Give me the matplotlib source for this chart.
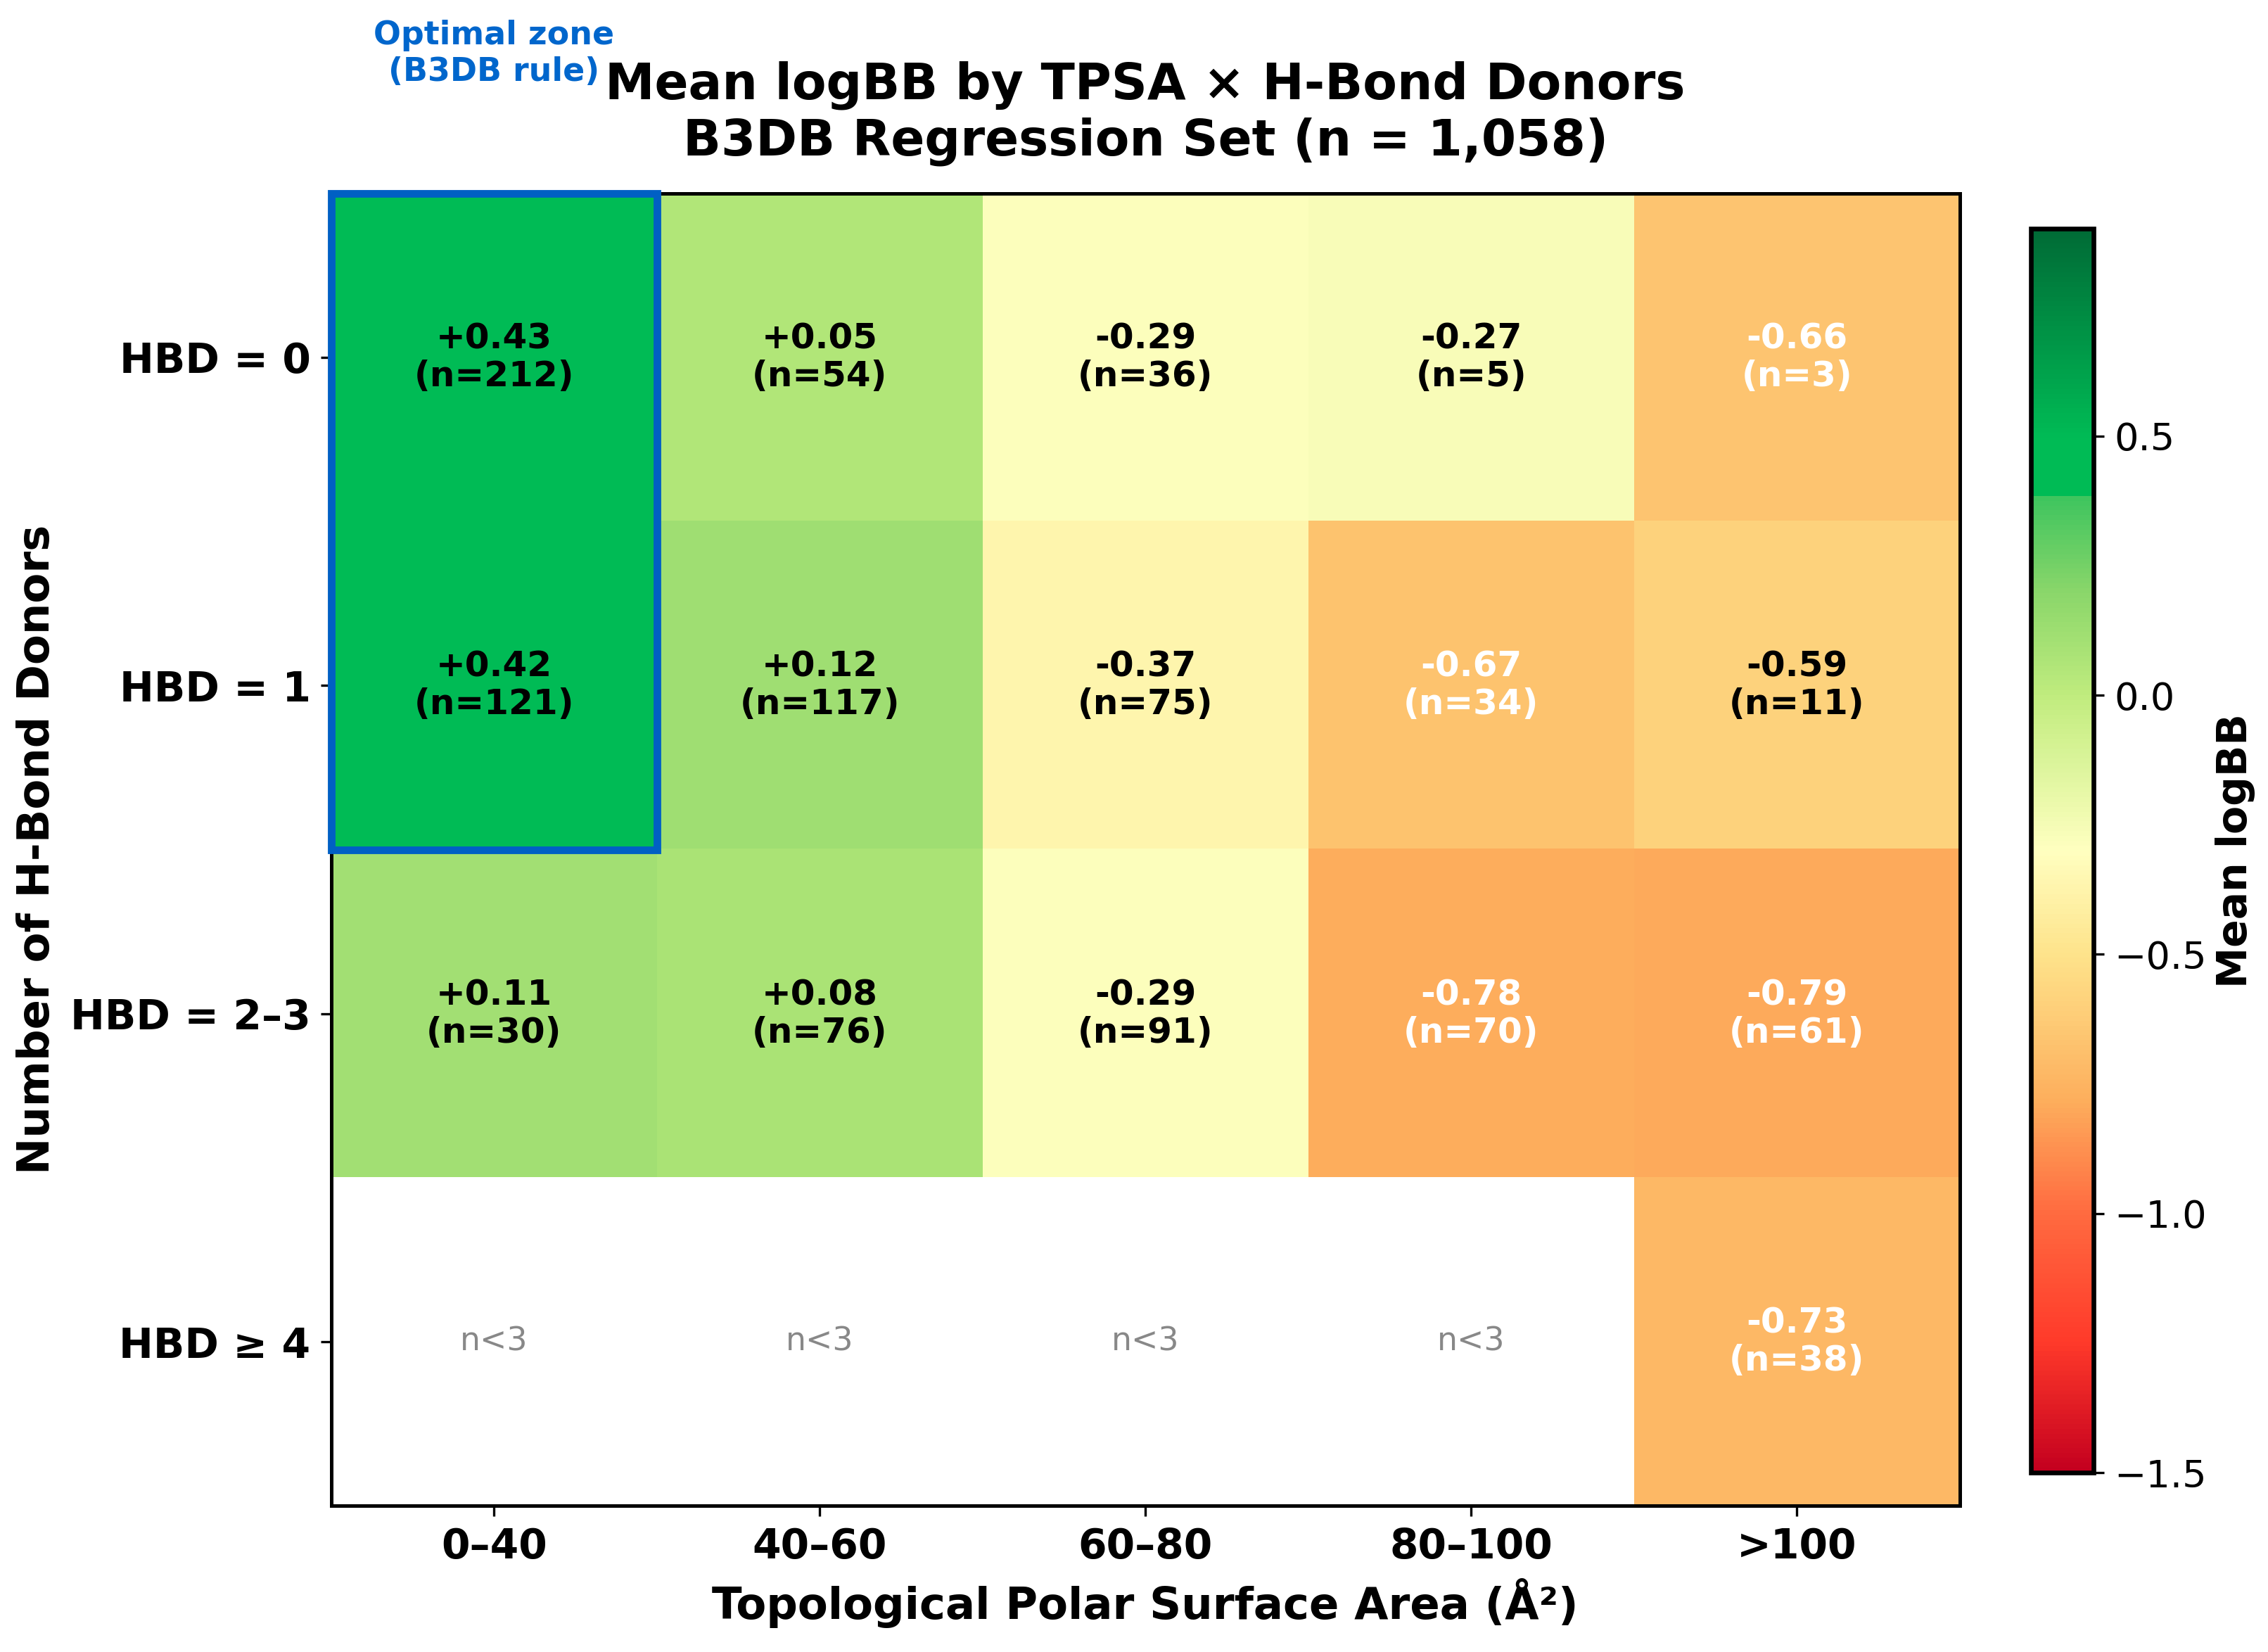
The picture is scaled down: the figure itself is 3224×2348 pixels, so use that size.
import numpy as np
import matplotlib
matplotlib.use("Agg")
import matplotlib.pyplot as plt
from matplotlib.colors import LinearSegmentedColormap
from matplotlib.patches import Rectangle

# data
tpsa_bins = ["0\u201340", "40\u201360", "60\u201380", "80\u2013100", ">100"]
hbd_bins = ["HBD = 0", "HBD = 1", "HBD = 2\u20133", "HBD \u2265 4"]

mean_hbd0 = [0.43, 0.05, -0.29, -0.27, -0.66]
mean_hbd1 = [0.42, 0.12, -0.37, -0.67, -0.59]
mean_hbd23 = [0.11, 0.08, -0.29, -0.78, -0.79]
mean_hbd4 = [np.nan, np.nan, np.nan, np.nan, -0.73]

n_hbd0 = [212, 54, 36, 5, 3]
n_hbd1 = [121, 117, 75, 34, 11]
n_hbd23 = [30, 76, 91, 70, 61]
n_hbd4 = [0, 0, 0, 0, 38]

means = np.array([mean_hbd0, mean_hbd1, mean_hbd23, mean_hbd4])
counts = np.array([n_hbd0, n_hbd1, n_hbd23, n_hbd4])

vmin, vmax = -1.5, 0.9

# custom red-yellow-green map (value, colour)
nodes = [(-1.5, "#c4001f"), (-1.25, "#ff3a2a"), (-1.0, "#ff6b40"),
         (-0.78, "#fdaf5d"), (-0.5, "#fee38b"), (-0.3, "#ffffc0"),
         (0.0, "#c0ec7e"), (0.2, "#8ad66a"), (0.389, "#3cc45e"),
         (0.39, "#00bb55"), (0.5, "#00bb55"), (0.9, "#006b36")]
cmap = LinearSegmentedColormap.from_list(
    "logbb", [((v - vmin) / (vmax - vmin), c) for v, c in nodes])
cmap.set_bad("white")

fig = plt.figure(figsize=(10.747, 7.827), dpi=300)
ax = fig.add_axes([0.146, 0.0884, 0.718, 0.7946])
cax = fig.add_axes([0.8955, 0.1086, 0.0275, 0.753])

masked = np.ma.masked_invalid(means)
im = ax.imshow(masked, cmap=cmap, vmin=vmin, vmax=vmax, aspect="auto")

for i in range(means.shape[0]):
    for j in range(means.shape[1]):
        v = means[i, j]
        if np.isnan(v):
            ax.text(j, i, "n<3", ha="center", va="center", fontsize=11,
                    color="#888888")
        else:
            col = "white" if v < -0.6 else "black"
            ax.text(j, i, f"{v:+.2f}\n(n={counts[i, j]})", ha="center",
                    va="center", fontsize=12, fontweight="bold", color=col,
                    linespacing=1.15)

# optimal zone box
ax.add_patch(Rectangle((-0.5, -0.5), 1, 2, fill=False, edgecolor="#0060c4",
                       linewidth=2.6, zorder=5, clip_on=False))
ax.text(0, -0.82, "Optimal zone\n(B3DB rule)", ha="center", va="bottom",
        fontsize=11, fontweight="bold", color="#0066cc", clip_on=False)

ax.set_xticks(range(len(tpsa_bins)))
ax.set_xticklabels(tpsa_bins, fontsize=14, fontweight="bold")
ax.set_yticks(range(len(hbd_bins)))
ax.set_yticklabels(hbd_bins, fontsize=14, fontweight="bold")
ax.set_xlabel("Topological Polar Surface Area (\u00c5\u00b2)", fontsize=15,
              fontweight="bold")
ax.set_ylabel("Number of H-Bond Donors", fontsize=15, fontweight="bold")
ax.set_title("Mean logBB by TPSA \u00d7 H-Bond Donors\nB3DB Regression Set (n = 1,058)",
             fontsize=17, fontweight="bold", pad=13)
for s in ax.spines.values():
    s.set_linewidth(1.2)

cb = fig.colorbar(im, cax=cax)
cb.set_ticks([0.5, 0.0, -0.5, -1.0, -1.5])
cb.ax.tick_params(labelsize=13)
cb.outline.set_linewidth(1.6)
cb.set_label("Mean logBB", fontsize=14, fontweight="bold", labelpad=3)

fig.savefig("out.png", dpi=300)
